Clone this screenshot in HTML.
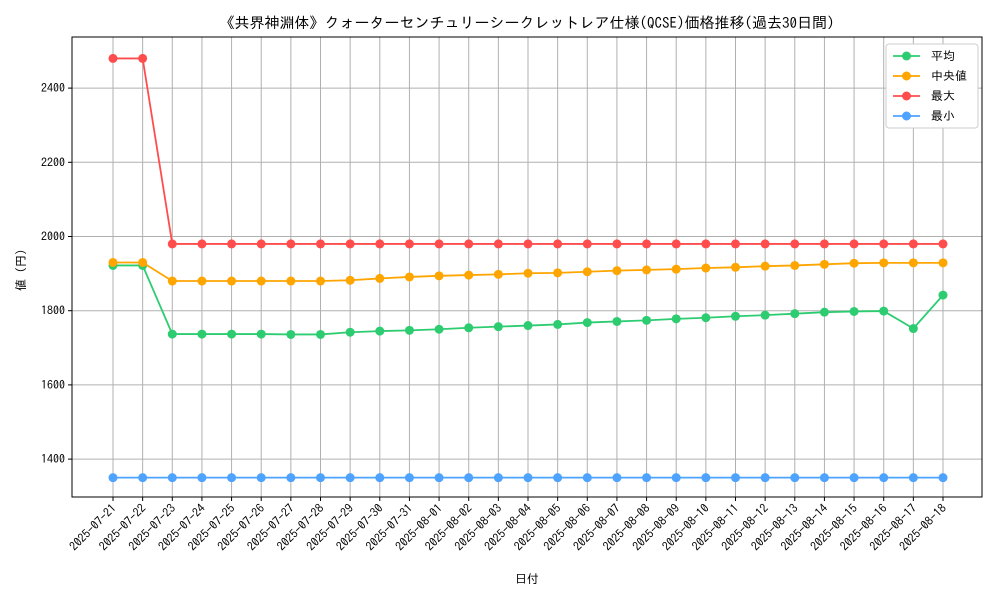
<!DOCTYPE html>
<html><head><meta charset="utf-8"><style>
body{margin:0;background:#fff;font-family:"IPAGothic","Noto Sans CJK JP",sans-serif;}
</style></head><body>
<svg id="chart" width="1000" height="600" xmlns="http://www.w3.org/2000/svg" font-family="IPAGothic,'Noto Sans CJK JP',sans-serif"></svg>
<script>
const dates=["2025-07-21","2025-07-22","2025-07-23","2025-07-24","2025-07-25","2025-07-26","2025-07-27","2025-07-28","2025-07-29","2025-07-30","2025-07-31","2025-08-01","2025-08-02","2025-08-03","2025-08-04","2025-08-05","2025-08-06","2025-08-07","2025-08-08","2025-08-09","2025-08-10","2025-08-11","2025-08-12","2025-08-13","2025-08-14","2025-08-15","2025-08-16","2025-08-17","2025-08-18"];
const avgVals=[1922,1922,1737,1737,1737,1737,1736,1736,1742,1745,1747,1750,1754,1757,1760,1763,1768,1771,1774,1778,1781,1785,1788,1792,1796,1798,1799,1752,1842];
const medVals=[1930,1930,1880,1880,1880,1880,1880,1880,1882,1887,1891,1894,1896,1898,1901,1902,1905,1908,1910,1912,1915,1917,1920,1922,1925,1928,1929,1929,1929];
const maxVals=[2480,2480,1980,1980,1980,1980,1980,1980,1980,1980,1980,1980,1980,1980,1980,1980,1980,1980,1980,1980,1980,1980,1980,1980,1980,1980,1980,1980,1980];
const minVals=[1350,1350,1350,1350,1350,1350,1350,1350,1350,1350,1350,1350,1350,1350,1350,1350,1350,1350,1350,1350,1350,1350,1350,1350,1350,1350,1350,1350,1350];
const yTicks=[1400,1600,1800,2000,2200,2400];
const seriesNames=["平均","中央値","最大","最小"];
const seriesColors=["#2ecc71","#ffa500","#ff4d4d","#4da3ff"];
const NS="http://www.w3.org/2000/svg";
const svg=document.getElementById("chart");
const L=72,R=982,T=37,B=497;
const xs=i=>113+i*(943-113)/(dates.length-1);
const ys=v=>236.5-(v-2000)*0.371;
function mk(tag,attrs,parent){const e=document.createElementNS(NS,tag);for(const k in attrs)e.setAttribute(k,attrs[k]);(parent||svg).appendChild(e);return e;}
const grid=mk("g",{});


dates.forEach((d,i)=>{
  const l=mk("line",{x1:xs(i),x2:xs(i),y1:T,y2:B,stroke:"#b0b0b0","stroke-width":1},grid);
  
  
  const tk=mk("line",{x1:xs(i),x2:xs(i),y1:B,y2:B+4,stroke:"#000"});
  
  
  const t=mk("text",{x:xs(i)+4,y:B+12,"font-size":12,"text-anchor":"end",transform:`rotate(-45 ${xs(i)+4} ${B+12})`});
  t.textContent=d;
  
  
});
yTicks.forEach(v=>{
  const l=mk("line",{x1:L,x2:R,y1:ys(v),y2:ys(v),stroke:"#b0b0b0","stroke-width":1},grid);
  
  
  const tk=mk("line",{x1:L-4,x2:L,y1:ys(v),y2:ys(v),stroke:"#000"});
  
  
  const t=mk("text",{x:L-7,y:ys(v)+4,"font-size":12,"text-anchor":"end"});
  t.textContent=v;
  
  
});
const frame=mk("rect",{x:L,y:T,width:R-L,height:B-T,fill:"none",stroke:"#000","stroke-width":1});


[avgVals,medVals,maxVals,minVals].forEach((vals,s)=>{
  const g=mk("g",{});
  
  
  const p=mk("polyline",{points:vals.map((v,i)=>xs(i)+","+ys(v)).join(" "),fill:"none",stroke:seriesColors[s],"stroke-width":1.8},g);
  
  
  vals.forEach((v,i)=>{
    const c=mk("circle",{cx:xs(i),cy:ys(v),r:4.5,fill:seriesColors[s]},g);
    
    
  });
});
const title=mk("text",{x:(L+R)/2,y:28,"font-size":15,"text-anchor":"middle"});
title.textContent="《共界神淵体》クォーターセンチュリーシークレットレア仕様(QCSE)価格推移(過去30日間)";


const xl=mk("text",{x:(L+R)/2,y:583,"font-size":12,"text-anchor":"middle"});
xl.textContent="日付";


const yl=mk("text",{x:25,y:267,"font-size":12,"text-anchor":"middle",transform:"rotate(-90 25 267)"});
yl.textContent="値（円）";


const lg=mk("g",{});


const lb=mk("rect",{x:886,y:44,width:92,height:84,rx:3,fill:"#fff",stroke:"#ccc"},lg);


seriesNames.forEach((n,s)=>{
  const y=56+s*20;
  const e=mk("g",{},lg);
  
  
  mk("line",{x1:893,x2:920,y1:y,y2:y,stroke:seriesColors[s],"stroke-width":1.8},e);
  mk("circle",{cx:906.5,cy:y,r:4.5,fill:seriesColors[s]},e);
  const t=mk("text",{x:931,y:y+4,"font-size":12},e);
  t.textContent=n;
});
</script>
</body></html>
